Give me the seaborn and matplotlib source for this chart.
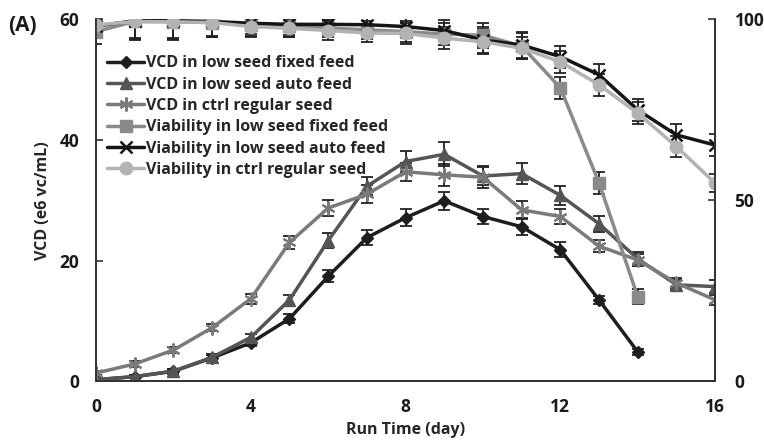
import numpy as np
import pandas as pd
import seaborn as sns
import matplotlib
matplotlib.use("Agg")
import matplotlib.pyplot as plt
from matplotlib.lines import Line2D

sns.set_style("white")
plt.rcParams['font.family'] = ['Open Sans', 'DejaVu Sans']

days = list(range(17))

vcd_fixed = [0.3, 0.8, 1.7, 3.9, 6.4, 10.4, 17.4, 23.8, 27.1, 29.9, 27.3, 25.6, 21.8, 13.5, 4.9]
vcd_fixed_err = [0.3, 0.3, 0.4, 0.5, 0.6, 0.8, 1.0, 1.2, 1.4, 1.5, 1.3, 1.3, 1.2, 0.6, 0.5]
vcd_auto = [0.3, 0.8, 1.7, 4.0, 7.3, 13.5, 23.3, 32.3, 36.4, 37.6, 34.0, 34.4, 30.8, 26.1, 20.3, 16.0, 15.7]
vcd_auto_err = [0.3, 0.3, 0.4, 0.5, 0.6, 0.8, 1.2, 1.5, 1.8, 2.0, 1.5, 1.7, 1.6, 1.3, 1.2, 0.8, 1.1]
vcd_ctrl = [1.4, 2.9, 5.2, 8.9, 13.7, 23.0, 28.7, 31.0, 34.7, 34.2, 33.8, 28.4, 27.3, 22.4, 20.1, 16.3, 13.5]
vcd_ctrl_err = [0.4, 0.5, 0.5, 0.6, 0.8, 1.0, 1.3, 1.5, 1.5, 1.8, 1.8, 1.4, 1.3, 1.0, 1.0, 0.8, 0.8]

via_fixed = [96.5, 99.3, 99.2, 99.0, 98.4, 98.0, 97.5, 97.0, 96.5, 95.8, 95.5, 92.5, 81.0, 54.8, 23.4]
via_fixed_err = [3.5, 5.0, 5.0, 4.0, 3.0, 3.0, 2.5, 2.5, 3.0, 3.0, 3.5, 3.5, 3.0, 3.0, 2.0]
via_auto = [98.0, 99.5, 99.5, 99.3, 98.8, 98.5, 98.5, 98.4, 97.9, 96.8, 94.2, 92.8, 89.6, 84.6, 74.9, 68.0, 65.2]
via_auto_err = [1.0, 5.0, 5.0, 4.0, 3.0, 3.0, 3.0, 2.5, 3.0, 3.0, 3.5, 3.5, 3.0, 3.0, 3.0, 3.0, 3.0]
via_ctrl = [98.3, 99.3, 99.2, 99.0, 97.9, 97.4, 96.8, 96.1, 96.0, 94.7, 93.7, 91.9, 88.2, 81.8, 74.0, 64.8, 54.7]
via_ctrl_err = [2.0, 4.5, 4.5, 4.0, 3.0, 2.5, 2.5, 2.5, 3.0, 3.0, 3.5, 3.0, 3.0, 3.0, 3.0, 3.0, 2.5]

labels = ["VCD in low seed fixed feed", "VCD in low seed auto feed", "VCD in ctrl regular seed",
          "Viability in low seed fixed feed", "Viability in low seed auto feed", "Viability in ctrl regular seed"]

fig = plt.figure(figsize=(7.64, 4.40), dpi=100)
ax = fig.add_axes([0.1257, 0.133, 0.8103, 0.824])
ax2 = ax.twinx()

def series(axis, y, err, color, marker, ms, mew=1.0, z=2):
    x = days[:len(y)]
    df = pd.DataFrame({"day": x, "val": y})
    axis.errorbar(x, y, yerr=err, fmt='none', ecolor='#222222', elinewidth=1.3,
                  capsize=4, capthick=1.3, zorder=z, clip_on=True)
    sns.lineplot(data=df, x="day", y="val", ax=axis, color=color, marker=marker,
                 markersize=ms, markeredgecolor=color, markeredgewidth=mew,
                 linewidth=2.5, zorder=z + 0.5, legend=False)

styles = [
    ("#1e1e1e", "D", 6, 1.0),
    ("#555555", "^", 8, 1.0),
    ("#7a7a7a", (6, 2, 0), 10, 1.5),
    ("#8a8a8a", "s", 8, 1.0),
    ("#151515", "x", 9, 1.8),
    ("#b3b3b3", "o", 9, 1.0),
]

series(ax, vcd_fixed, vcd_fixed_err, *styles[0])
series(ax, vcd_auto, vcd_auto_err, *styles[1])
series(ax, vcd_ctrl, vcd_ctrl_err, *styles[2])
series(ax2, via_fixed, via_fixed_err, *styles[3])
series(ax2, via_auto, via_auto_err, *styles[4])
series(ax2, via_ctrl, via_ctrl_err, *styles[5])

ax.set_xlim(0, 16)
ax.set_ylim(0, 60)
ax2.set_ylim(0, 100)
ax.set_xticks([0, 4, 8, 12, 16])
ax.set_yticks([0, 20, 40, 60])
ax2.set_yticks([0, 50, 100])

for a in (ax, ax2):
    a.spines['top'].set_visible(False)
    for s in ['left', 'right', 'bottom']:
        a.spines[s].set_color('#333333')
        a.spines[s].set_linewidth(1.3)
    a.tick_params(direction='in', length=5, width=1.2, colors='#333333',
                  labelsize=12.5, labelcolor='#1a1a1a', pad=12)
    for lab in a.get_xticklabels() + a.get_yticklabels():
        lab.set_fontweight('bold')
ax.tick_params(axis='x', pad=12)
ax2.tick_params(axis='y', pad=14)
ax.set_xlabel("Run Time (day)", fontsize=11.5, fontweight='bold', labelpad=4)
ax.set_ylabel("VCD (e6 vc/mL)", fontsize=11.5, fontweight='bold', labelpad=6)
ax2.set_ylabel("")
ax.set_facecolor('none')

handles = [Line2D([0], [0], color=c, marker=m, markersize=ms, markeredgecolor=c,
                  markeredgewidth=mew, linewidth=2.5) for c, m, ms, mew in styles]
leg = ax2.legend(handles, labels, loc='upper left', bbox_to_anchor=(0.0, 0.93),
                 frameon=False, handlelength=2.3, handletextpad=0.15, labelspacing=0.33,
                 prop={'weight': 'bold', 'size': 11.5}, borderaxespad=0.3)
leg.set_zorder(10)

fig.text(0.010, 0.93, "(A)", fontsize=15, fontweight='bold', color='#1a1a1a')

fig.savefig("out.png", dpi=100)
